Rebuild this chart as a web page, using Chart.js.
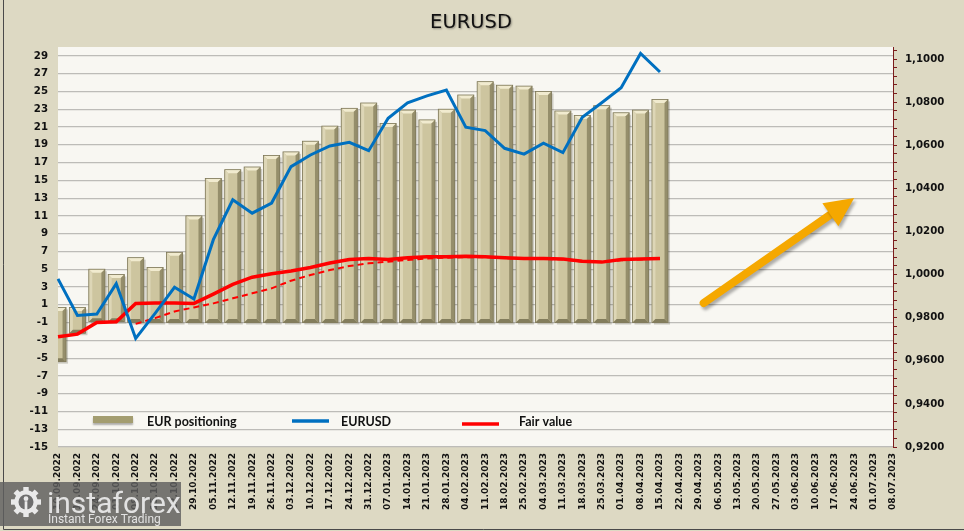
<!DOCTYPE html>
<html>
<head>
<meta charset="utf-8">
<script src="https://cdn.jsdelivr.net/npm/chart.js@4.4.0/dist/chart.umd.min.js"></script>
<style>
    html, body { margin: 0; padding: 0; background: #ddd9c3; }
    #caja { width: 964px; height: 531px; }
</style>
</head>
<body>
<div id="caja"><canvas id="grafico" width="964" height="531"></canvas></div>
<script>
// Semanas (eje X)
const semanas = ['10.09.2022','17.09.2022','24.09.2022','01.10.2022','08.10.2022','15.10.2022','22.10.2022','29.10.2022',
    '05.11.2022','12.11.2022','19.11.2022','26.11.2022','03.12.2022','10.12.2022','17.12.2022','24.12.2022','31.12.2022',
    '07.01.2023','14.01.2023','21.01.2023','28.01.2023','04.02.2023','11.02.2023','18.02.2023','25.02.2023','04.03.2023',
    '11.03.2023','18.03.2023','25.03.2023','01.04.2023','08.04.2023','15.04.2023','22.04.2023','29.04.2023','06.05.2023',
    '13.05.2023','20.05.2023','27.05.2023','03.06.2023','10.06.2023','17.06.2023','24.06.2023','01.07.2023','08.07.2023'];

// EUR positioning: tope y base de cada columna (eje izquierdo)
const posicionTope = [0.7, 0.7, 5.0, 4.4, 6.3, 5.2, 6.9, 11.0, 15.2, 16.2, 16.5, 17.8, 18.2, 19.4, 21.1, 23.1, 23.7,
    21.4, 22.9, 21.8, 23.0, 24.6, 26.1, 25.7, 25.6, 25.0, 22.8, 22.3, 23.4, 22.6, 22.9, 24.1];
const posicionBase = [-5.4, -2.2, -0.9, -0.9, -1, -1, -1, -1, -1, -1, -1, -1, -1, -1, -1, -1, -1,
    -1, -1, -1, -1, -1, -1, -1, -1, -1, -1, -1, -1, -1, -1, -1];

// EURUSD (eje derecho)
const eurusd = [0.9980, 0.9810, 0.9817, 0.9958, 0.9704, 0.9820, 0.9941, 0.9887, 1.0162, 1.0347, 1.0285, 1.0332,
    1.0501, 1.0555, 1.0597, 1.0614, 1.0575, 1.0725, 1.0797, 1.0829, 1.0856, 1.0684, 1.0668, 1.0586, 1.0559,
    1.0610, 1.0566, 1.0730, 1.0797, 1.0867, 1.1026, 1.0940];

// Fair value (eje izquierdo) y su media (punteada)
const valorJusto = [-2.6, -2.3, -1.0, -0.9, 1.15, 1.2, 1.2, 1.15, 2.2, 3.3, 4.1, 4.5, 4.8, 5.2, 5.7, 6.1, 6.2,
    6.1, 6.3, 6.4, 6.4, 6.45, 6.4, 6.3, 6.2, 6.2, 6.15, 5.9, 5.8, 6.1, 6.15, 6.2];
const valorJustoMedia = [null, null, null, null, -1.15, -0.5, 0.25, 0.7, 1.16, 1.73, 2.29, 2.85, 3.71, 4.35, 4.91, 5.36, 5.66,
    5.85, 6.05, 6.2, 6.3, 6.35, 6.35, 6.25, 6.15, 6.15, 6.1, 5.85, 5.8, 6.0, 6.1, 6.25];

// Flecha naranja (indice de semana, valor eje izquierdo)
const flechaDesde = [33.25, 1.2];
const flechaHasta = [41.0, 13.0];

const fuenteEjes = { family: 'DejaVu Sans', weight: 'bold', size: 10.2 };

function dibujarEngranaje(ctx, cx, cy, r) {
    ctx.save();
    ctx.fillStyle = '#e9e9e9';
    ctx.beginPath();
    ctx.arc(cx, cy, r * 0.78, 0, Math.PI * 2);
    ctx.fill();
    for (let i = 0; i < 8; i++) {
        ctx.save();
        ctx.translate(cx, cy);
        ctx.rotate(i * Math.PI / 4);
        ctx.fillRect(-r * 0.18, -r, r * 0.36, r * 0.4);
        ctx.restore();
    }
    ctx.fillStyle = '#6e6e6e';
    ctx.beginPath();
    ctx.arc(cx, cy, r * 0.5, 0, Math.PI * 2);
    ctx.fill();
    ctx.fillStyle = '#e9e9e9';
    ctx.beginPath();
    ctx.arc(cx, cy - r * 0.22, r * 0.16, 0, Math.PI * 2);
    ctx.fill();
    ctx.fillRect(cx - r * 0.09, cy - r * 0.05, r * 0.18, r * 0.9);
    ctx.restore();
}

const decoracion = {
    id: 'decoracion',
    beforeDraw(chart) {
        const { ctx, chartArea: a } = chart;
        ctx.save();
        ctx.fillStyle = '#ddd9c3';
        ctx.fillRect(0, 0, chart.width, chart.height);
        ctx.fillStyle = '#f8f7f2';
        ctx.fillRect(a.left, a.top, a.right - a.left, a.bottom - a.top);
        // titulo
        ctx.font = '19.5px "DejaVu Sans"';
        ctx.textAlign = 'center';
        ctx.textBaseline = 'middle';
        ctx.shadowColor = 'rgba(0,0,0,0.35)';
        ctx.shadowBlur = 2;
        ctx.shadowOffsetX = 1;
        ctx.shadowOffsetY = 1;
        ctx.fillStyle = '#111';
        ctx.fillText('EURUSD', 471, 23);
        ctx.restore();
    },
    afterDatasetDraw(chart, args) {
        if (args.meta.type !== 'bar') return;
        const { ctx, chartArea: a } = chart;
        ctx.save();
        ctx.beginPath();
        ctx.rect(a.left, a.top, a.right - a.left, a.bottom - a.top);
        ctx.clip();
        args.meta.data.forEach(el => {
            const p = el.getProps(['x', 'y', 'base', 'width'], true);
            const l = p.x - p.width / 2, r = p.x + p.width / 2;
            const t = Math.min(p.y, p.base), b = Math.max(p.y, p.base);
            const bv = 3.5;
            ctx.fillStyle = 'rgba(60,55,30,0.22)';
            ctx.fillRect(l + 2, t + 2, r - l, b - t);
            ctx.fillStyle = '#cdc59f';
            ctx.fillRect(l, t, r - l, b - t);
            const poly = (pts, c) => {
                ctx.fillStyle = c;
                ctx.beginPath();
                ctx.moveTo(pts[0][0], pts[0][1]);
                pts.slice(1).forEach(q => ctx.lineTo(q[0], q[1]));
                ctx.closePath();
                ctx.fill();
            };
            poly([[l, t], [r, t], [r - bv, t + bv], [l + bv, t + bv]], '#f1ebcf');
            poly([[l, t], [l + bv, t + bv], [l + bv, b - bv], [l, b]], '#ddd6b6');
            poly([[r, t], [r - bv, t + bv], [r - bv, b - bv], [r, b]], '#958e6b');
            poly([[l, b], [l + bv, b - bv], [r - bv, b - bv], [r, b]], '#837d5c');
            ctx.strokeStyle = '#7c7656';
            ctx.lineWidth = 0.8;
            ctx.strokeRect(l, t, r - l, b - t);
        });
        ctx.restore();
    },
    afterDraw(chart) {
        const { ctx } = chart;
        const x = chart.scales.x, y = chart.scales.y;
        ctx.save();
        // flecha
        const x0 = x.getPixelForValue(flechaDesde[0]), y0 = y.getPixelForValue(flechaDesde[1]);
        const x1 = x.getPixelForValue(flechaHasta[0]), y1 = y.getPixelForValue(flechaHasta[1]);
        const ang = Math.atan2(y1 - y0, x1 - x0);
        const largoPunta = 29, anchoPunta = 14;
        const bx = x1 - Math.cos(ang) * largoPunta, by = y1 - Math.sin(ang) * largoPunta;
        ctx.shadowColor = 'rgba(0,0,0,0.3)';
        ctx.shadowBlur = 3;
        ctx.shadowOffsetX = 2;
        ctx.shadowOffsetY = 3;
        ctx.strokeStyle = '#f5a800';
        ctx.fillStyle = '#f5a800';
        ctx.lineWidth = 8;
        ctx.lineCap = 'round';
        ctx.beginPath();
        ctx.moveTo(x0, y0);
        ctx.lineTo(bx + Math.cos(ang) * 4, by + Math.sin(ang) * 4);
        ctx.stroke();
        ctx.beginPath();
        ctx.moveTo(x1, y1);
        ctx.lineTo(bx + Math.sin(ang) * anchoPunta, by - Math.cos(ang) * anchoPunta);
        ctx.lineTo(bx - Math.sin(ang) * anchoPunta, by + Math.cos(ang) * anchoPunta);
        ctx.closePath();
        ctx.fill();
        ctx.restore();

        // leyenda
        ctx.save();
        ctx.shadowColor = 'rgba(0,0,0,0.3)';
        ctx.shadowBlur = 2;
        ctx.shadowOffsetY = 2;
        ctx.fillStyle = '#a39d70';
        ctx.fillRect(93, 416, 40, 7);
        ctx.restore();
        ctx.save();
        ctx.lineWidth = 3.5;
        ctx.strokeStyle = '#0070c0';
        ctx.beginPath(); ctx.moveTo(292, 421); ctx.lineTo(329, 421); ctx.stroke();
        ctx.strokeStyle = '#ff0000';
        ctx.beginPath(); ctx.moveTo(462, 424); ctx.lineTo(499, 424); ctx.stroke();
        ctx.fillStyle = '#111';
        ctx.font = 'bold 12.5px Lato';
        ctx.textBaseline = 'alphabetic';
        ctx.fillText('EUR positioning', 147, 426);
        ctx.fillText('EURUSD', 341, 426);
        ctx.fillText('Fair value', 519, 426);
        ctx.restore();

        // marco
        ctx.save();
        ctx.strokeStyle = '#4a4a4a';
        ctx.lineWidth = 1;
        ctx.beginPath();
        ctx.moveTo(3.5, 0); ctx.lineTo(3.5, 529.5); ctx.lineTo(964, 529.5);
        ctx.stroke();
        ctx.restore();

        // marca de agua
        ctx.save();
        ctx.fillStyle = 'rgba(95,95,95,0.82)';
        ctx.fillRect(0, 482, 181, 44);
        dibujarEngranaje(ctx, 26, 502, 15);
        ctx.fillStyle = 'rgba(235,235,235,0.92)';
        ctx.font = '30px Roboto';
        ctx.textBaseline = 'alphabetic';
        ctx.fillText('instaforex', 47, 513);
        ctx.font = '12px Roboto';
        ctx.fillText('Instant Forex Trading', 48, 523);
        ctx.restore();
    }
};

new Chart(document.getElementById('grafico'), {
    type: 'bar',
    data: {
        labels: semanas,
        datasets: [
            {
                type: 'line',
                label: 'EURUSD',
                data: eurusd,
                yAxisID: 'y1',
                borderColor: '#0070c0',
                borderWidth: 3,
                pointRadius: 0,
                tension: 0,
                order: 1
            },
            {
                type: 'line',
                label: 'Fair value',
                data: valorJusto,
                yAxisID: 'y',
                borderColor: '#ff0000',
                borderWidth: 3.5,
                pointRadius: 0,
                tension: 0,
                order: 2
            },
            {
                type: 'line',
                label: 'Fair value media',
                data: valorJustoMedia,
                yAxisID: 'y',
                borderColor: '#ff0000',
                borderWidth: 2,
                borderDash: [6, 4],
                pointRadius: 0,
                tension: 0,
                order: 3
            },
            {
                type: 'bar',
                label: 'EUR positioning',
                data: posicionTope.map((v, i) => [posicionBase[i], v]),
                yAxisID: 'y',
                backgroundColor: 'rgba(0,0,0,0)',
                borderWidth: 0,
                barPercentage: 0.9,
                categoryPercentage: 0.92,
                order: 4
            }
        ]
    },
    options: {
        responsive: false,
        animation: false,
        layout: { padding: { top: 47, left: 0, right: 0, bottom: 0 } },
        plugins: {
            legend: { display: false },
            tooltip: { enabled: false },
            title: { display: false }
        },
        scales: {
            x: {
                offset: false,
                grid: { display: false, drawTicks: false },
                border: { display: false },
                ticks: {
                    autoSkip: false,
                    minRotation: 90,
                    maxRotation: 90,
                    padding: 6,
                    color: '#111',
                    font: { family: 'DejaVu Sans', weight: 'bold', size: 9 }
                },
                afterFit: s => { s.height = 84; }
            },
            y: {
                position: 'left',
                min: -15,
                max: 30,
                ticks: {
                    stepSize: 1,
                    autoSkip: false,
                    padding: 10,
                    color: '#111',
                    font: fuenteEjes,
                    callback: v => (Math.abs(v % 2) === 1 ? v : '')
                },
                grid: {
                    drawTicks: false,
                    color: c => (Math.abs(c.tick.value % 2) === 1 ? '#bdbcb8' : 'rgba(0,0,0,0)'),
                    lineWidth: 1.2
                },
                border: { display: false },
                afterFit: s => { s.width = 58; }
            },
            y1: {
                position: 'right',
                min: 0.92,
                max: 1.1056,
                ticks: {
                    stepSize: 0.004,
                    includeBounds: false,
                    autoSkip: false,
                    padding: 8,
                    color: '#111',
                    font: fuenteEjes,
                    callback: v => {
                        const k = Math.round(v * 1000);
                        return (Math.abs(v * 1000 - k) < 1e-3 && k % 20 === 0) ? v.toFixed(4).replace('.', ',') : '';
                    }
                },
                grid: {
                    drawOnChartArea: false,
                    drawTicks: true,
                    tickLength: 4,
                    tickColor: '#7b1c1c'
                },
                border: { display: true, color: '#7b1c1c', width: 1 },
                afterFit: s => { s.width = 71; }
            }
        }
    },
    plugins: [decoracion]
});
</script>
</body>
</html>
